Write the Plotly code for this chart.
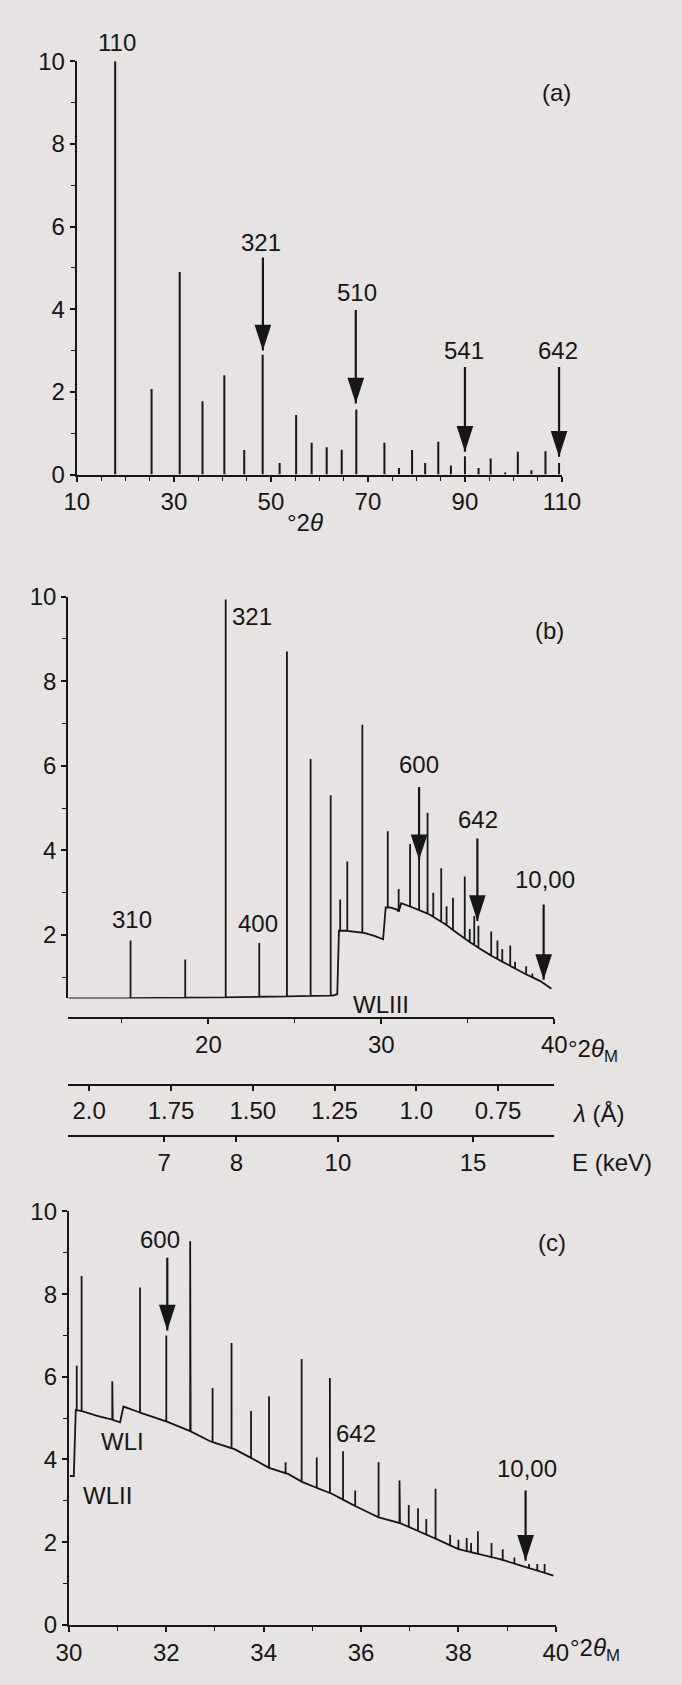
import numpy as np
import plotly.graph_objects as go

W, H = 682, 1685
FONT = "Liberation Sans, Arial, Helvetica, sans-serif"
INK = "#161616"
BG = "#e7e3e2"
FS = 24

# ---------------- panel (a): powder pattern ----------------
a_pos = [17.9, 25.4, 31.2, 35.9, 40.4, 44.5, 48.3, 51.8, 55.2, 58.4, 61.5, 64.6, 67.6,
         73.4, 76.4, 79.1, 81.8, 84.5, 87.1, 90.0, 92.8, 95.3, 98.3, 100.9, 103.7, 106.6, 109.4]
a_int = [10.0, 2.07, 4.9, 1.77, 2.4, 0.59, 2.9, 0.28, 1.44, 0.77, 0.66, 0.6, 1.57,
         0.77, 0.16, 0.59, 0.28, 0.79, 0.22, 0.44, 0.16, 0.39, 0.05, 0.55, 0.1, 0.56, 0.28]
a_lab = ["110", "321", "510", "541", "642", "(a)"]
a_lab_x = [18.3, 48.0, 67.7, 89.9, 109.1, 108.8]
a_lab_y = [10.45, 5.62, 4.41, 3.0, 3.0, 9.25]
a_arr_x = [48.35, 67.5, 90.0, 109.4]
a_arr_top = [5.25, 3.98, 2.6, 2.6]
a_arr_tip = [3.0, 1.72, 0.55, 0.43]
a_xticks = [10, 30, 50, 70, 90, 110]
a_xminor = [15, 20, 25, 35, 40, 45, 55, 60, 65, 75, 80, 85, 95, 100, 105]
a_yticks = [0, 2, 4, 6, 8, 10]

# ---------------- panel (b): scan in 2theta_M ----------------
b_bg_x = [11.9, 20.0, 27.2, 27.45, 27.55, 28.0, 29.0, 29.6, 30.1, 30.25, 30.5, 30.9, 31.0,
          31.15, 31.5, 32.76, 33.68, 34.6, 35.52, 36.44, 37.36, 38.27, 39.19, 39.83]
b_bg_y = [0.50, 0.52, 0.57, 0.60, 2.10, 2.10, 2.05, 1.98, 1.90, 2.65, 2.65, 2.60, 2.55,
          2.75, 2.70, 2.49, 2.26, 1.98, 1.72, 1.49, 1.29, 1.09, 0.91, 0.73]
b_pk_x = [15.5, 18.66, 21.0, 22.94, 24.54, 25.91, 27.07, 27.62, 28.03, 28.9, 30.37, 31.0,
          31.66, 32.18, 32.67, 33.0, 33.46, 33.77, 34.14, 34.82, 35.11, 35.37, 35.61,
          36.35, 36.71, 36.99, 37.45, 37.73, 38.37, 38.73]
b_pk_y = [1.87, 1.42, 9.93, 1.81, 8.7, 6.16, 5.3, 2.84, 3.74, 6.97, 4.45, 3.09,
          4.15, 5.5, 4.89, 3.0, 3.58, 2.68, 2.88, 3.38, 2.14, 2.45, 2.22,
          2.08, 1.87, 1.67, 1.75, 1.37, 1.26, 1.09]
b_lab = ["310", "400", "600", "642", "10,00", "WLIII", "(b)"]
b_lab_x = [15.6, 22.84, 32.2, 35.6, 39.47, 30.0, 39.7]
b_lab_y = [2.37, 2.28, 6.02, 4.74, 3.3, 0.35, 9.19]
b_arr_x = [32.18, 35.55, 39.38]
b_arr_top = [5.5, 4.28, 2.72]
b_arr_tip = [3.77, 2.33, 0.94]
b_xticks = [20, 30, 40]
b_xminor = [15, 25, 35]
b_yticks = [2, 4, 6, 8, 10]
lam_ticks = [2.0, 1.75, 1.5, 1.25, 1.0, 0.75]
lam_text = ["2.0", "1.75", "1.50", "1.25", "1.0", "0.75"]
e_ticks = [7, 8, 10, 15]

# ---------------- panel (c): 30-40 deg detail ----------------
c_bg_x = [30.02, 30.1, 30.14, 30.3, 30.6, 30.9, 31.05, 31.12, 31.4, 32.0, 32.5, 32.9, 33.4,
          33.8, 34.1, 34.5, 34.8, 35.4, 35.9, 36.3, 36.8, 37.5, 38.0, 38.85, 39.4, 39.95]
c_bg_y = [3.6, 3.6, 5.2, 5.16, 5.05, 4.96, 4.9, 5.28, 5.16, 4.92, 4.68, 4.44, 4.25,
          4.0, 3.8, 3.65, 3.45, 3.17, 2.86, 2.62, 2.46, 2.1, 1.83, 1.59, 1.39, 1.19]
c_pk_x = [30.16, 30.26, 30.89, 31.46, 32.0, 32.49, 32.95, 33.34, 33.74, 34.11, 34.45, 34.78,
          35.09, 35.36, 35.63, 35.88, 36.36, 36.79, 36.98, 37.17, 37.34, 37.53, 37.83, 38.0,
          38.17, 38.26, 38.4, 38.68, 38.91, 39.15, 39.45, 39.62, 39.77]
c_pk_y = [6.27, 8.44, 5.89, 8.16, 7.0, 9.28, 5.73, 6.82, 5.17, 5.53, 3.93, 6.43,
          4.05, 5.97, 4.2, 3.25, 3.93, 3.49, 2.9, 2.82, 2.56, 3.29, 2.18, 2.06,
          2.1, 1.98, 2.26, 1.98, 1.83, 1.63, 1.47, 1.47, 1.47]
c_lab = ["600", "10,00", "WLI", "WLII", "(c)"]
c_lab_x = [31.87, 39.4, 31.1, 30.8, 39.92]
c_lab_y = [9.32, 3.77, 4.44, 3.13, 9.24]
c_arr_x = [32.02, 39.38]
c_arr_top = [8.88, 3.25]
c_arr_tip = [7.12, 1.55]
c_xticks = [30, 32, 34, 36, 38, 40]
c_xminor = [31, 33, 35, 37, 39]
c_yticks = [0, 2, 4, 6, 8, 10]


def fx(px):
    return px / W


def fy(py):
    return 1 - py / H


# panel geometry (pixel boxes) and data ranges
PA = dict(x0=67, x1=576, y0=468, y1=48, xr=(10, 110), yr=(0, 10))
PB = dict(x0=58, x1=568, y0=1000.5, y1=592, xr=(11.9, 40), yr=(0.5, 10))
PC = dict(x0=58.7, x1=569.5, y0=1637, y1=1217, xr=(30, 40), yr=(0, 10))
B_AXIS_Y, LAM_Y, E_Y = 1020, 1088, 1140
lam_lo, lam_hi = 2.064, 0.578


def to_paper(p, x, y):
    px = p["x0"] + (x - p["xr"][0]) / (p["xr"][1] - p["xr"][0]) * (p["x1"] - p["x0"])
    py = p["y0"] + (y - p["yr"][0]) / (p["yr"][1] - p["yr"][0]) * (p["y1"] - p["y0"])
    return fx(px), fy(py)


def sticks(xs, hs):
    X, Y = [], []
    for x, h in zip(xs, hs):
        X += [x, x, None]
        Y += [0, h, None]
    return X, Y


def shafts(xs, tops, tips):
    X, Y = [], []
    for x, t, p in zip(xs, tops, tips):
        X += [x, x, None]
        Y += [t, p, None]
    return X, Y


def spectrum(bx, by, px, py):
    items = [(x, [y]) for x, y in zip(bx, by)]
    for p, h in zip(px, py):
        base = float(np.interp(p, bx, by))
        items.append((p, [base, h, base]))
    items.sort(key=lambda t: t[0])
    X, Y = [], []
    for x, ys in items:
        X += [x] * len(ys)
        Y += ys
    return X, Y


fig = go.Figure()


def add_line(x, y, xa, ya, w=1.7):
    fig.add_trace(go.Scatter(x=x, y=y, mode="lines", line=dict(color=INK, width=w),
                             xaxis=xa, yaxis=ya, hoverinfo="skip", showlegend=False,
                             cliponaxis=False))


def add_heads(x, y, xa, ya):
    fig.add_trace(go.Scatter(x=x, y=y, mode="markers",
                             marker=dict(symbol="arrow", angle=180, size=27, color=INK,
                                         line=dict(width=0)),
                             xaxis=xa, yaxis=ya, hoverinfo="skip", showlegend=False,
                             cliponaxis=False))


# panel a
sx, sy = sticks(a_pos, a_int)
add_line(sx, sy, "x", "y", 2.0)
ax_, ay_ = shafts(a_arr_x, a_arr_top, a_arr_tip)
add_line(ax_, ay_, "x", "y", 2.2)
add_heads(a_arr_x, a_arr_tip, "x", "y")

# panel b
bx, by = spectrum(b_bg_x, b_bg_y, b_pk_x, b_pk_y)
add_line(bx, by, "x2", "y2", 1.8)
ax_, ay_ = shafts(b_arr_x, b_arr_top, b_arr_tip)
add_line(ax_, ay_, "x2", "y2", 2.2)
add_heads(b_arr_x, b_arr_tip, "x2", "y2")
# invisible anchors for wavelength / energy scales
fig.add_trace(go.Scatter(x=lam_ticks, y=[5] * len(lam_ticks), mode="markers",
                         marker=dict(opacity=0), xaxis="x3", yaxis="y2",
                         hoverinfo="skip", showlegend=False))
fig.add_trace(go.Scatter(x=[12.398 / e for e in e_ticks], y=[5] * len(e_ticks), mode="markers",
                         marker=dict(opacity=0), xaxis="x4", yaxis="y2",
                         hoverinfo="skip", showlegend=False))

# panel c
cx, cy = spectrum(c_bg_x, c_bg_y, c_pk_x, c_pk_y)
add_line(cx, cy, "x5", "y3", 1.8)
ax_, ay_ = shafts(c_arr_x, c_arr_top, c_arr_tip)
add_line(ax_, ay_, "x5", "y3", 2.2)
add_heads(c_arr_x, c_arr_tip, "x5", "y3")

common = dict(showline=True, linecolor=INK, linewidth=2.2, ticks="outside", tickcolor=INK,
              tickwidth=1.6, ticklen=5, showgrid=False, zeroline=False,
              tickfont=dict(family=FONT, size=FS, color=INK))


def minor(vals):
    return dict(tickvals=vals, ticks="outside", ticklen=4, tickcolor=INK, tickwidth=1.2,
                showgrid=False)


fig.update_layout(
    width=W, height=H, margin=dict(l=0, r=0, t=0, b=0),
    paper_bgcolor=BG, plot_bgcolor=BG, showlegend=False, hovermode=False,
    font=dict(family=FONT, size=FS, color=INK),
    xaxis=dict(domain=[fx(PA["x0"]), fx(PA["x1"])], range=list(PA["xr"]), anchor="y",
               tickvals=a_xticks, minor=minor(a_xminor), **common),
    yaxis=dict(domain=[fy(PA["y0"]), fy(PA["y1"])], range=list(PA["yr"]), anchor="x",
               tickvals=a_yticks, minor=minor([1, 3, 5, 7, 9]), **common),
    xaxis2=dict(domain=[fx(PB["x0"]), fx(PB["x1"])], range=list(PB["xr"]), anchor="free",
                position=fy(B_AXIS_Y), tickvals=b_xticks, minor=minor(b_xminor), **common),
    yaxis2=dict(domain=[fy(PB["y0"]), fy(PB["y1"])], range=list(PB["yr"]), anchor="x2",
                tickvals=b_yticks, minor=minor([1, 3, 5, 7, 9]), **common),
    xaxis3=dict(overlaying="x2", anchor="free", position=fy(LAM_Y), range=[lam_lo, lam_hi],
                tickvals=lam_ticks, ticktext=lam_text, side="bottom", **common),
    xaxis4=dict(overlaying="x2", anchor="free", position=fy(E_Y), range=[lam_lo, lam_hi],
                tickvals=[12.398 / e for e in e_ticks], ticktext=[str(e) for e in e_ticks],
                side="bottom", **common),
    xaxis5=dict(domain=[fx(PC["x0"]), fx(PC["x1"])], range=list(PC["xr"]), anchor="y3",
                tickvals=c_xticks, minor=minor(c_xminor), **common),
    yaxis3=dict(domain=[fy(PC["y0"]), fy(PC["y1"])], range=list(PC["yr"]), anchor="x5",
                tickvals=c_yticks, minor=minor([1, 3, 5, 7, 9]), **common),
)

ann = []


def txt(t, px, py, xanchor="center", size=FS):
    ann.append(dict(text=t, x=px, y=py, xref="paper", yref="paper", showarrow=False,
                    xanchor=xanchor, yanchor="middle",
                    font=dict(family=FONT, size=size, color=INK)))


for p, labs, lx, ly in ((PA, a_lab, a_lab_x, a_lab_y), (PB, b_lab, b_lab_x, b_lab_y),
                        (PC, c_lab, c_lab_x, c_lab_y)):
    for t, x, y in zip(labs, lx, ly):
        X, Y = to_paper(p, x, y)
        txt(t, X, Y)
X, Y = to_paper(PB, 21.25, 9.53)
txt("321", X, Y, xanchor="left")
X, Y = to_paper(PC, 35.45, 4.64)
txt("642", X, Y, xanchor="left")

# axis titles
txt("°2<i>θ</i>", fx(306), fy(517))
txt("°2<i>θ</i><sub>M</sub>", fx(580), fy(1053), xanchor="left")
txt("<i>λ</i> (Å)", fx(614), fy(1117))
txt("E (keV)", fx(628), fy(1167))
txt("°2<i>θ</i><sub>M</sub>", fx(582), fy(1662), xanchor="left")

fig.update_layout(annotations=ann)
fig.write_html("out.html")
